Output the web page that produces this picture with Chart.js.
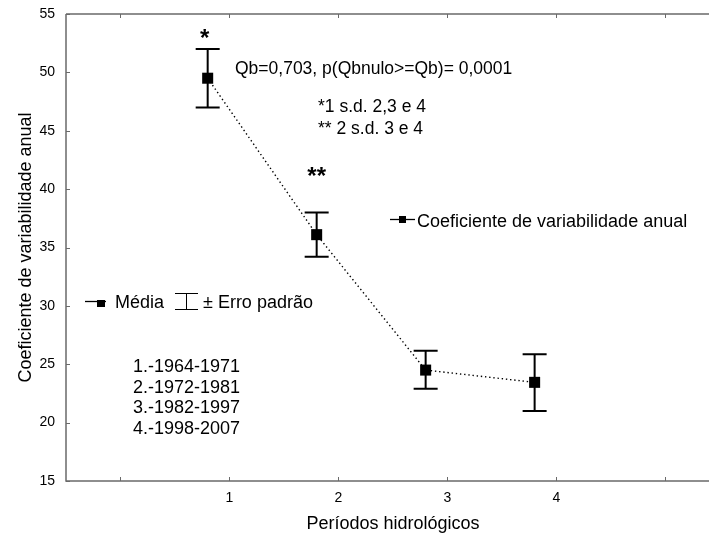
<!DOCTYPE html>
<html>
<head>
<meta charset="utf-8">
<script src="https://cdn.jsdelivr.net/npm/chart.js@4/dist/chart.umd.min.js"></script>
<style>
  html, body { margin: 0; padding: 0; background: #fff; }
  #wrap { width: 709px; height: 535px; }
</style>
</head>
<body>
<div id="wrap"><canvas id="myChart" width="709" height="535"></canvas></div>
<script>
// data
let periods = [0.8, 1.8, 2.8, 3.8];
let means = [49.5, 36.1, 24.5, 23.45];
let errUp = [52.0, 38.0, 26.15, 25.85];
let errDown = [47.0, 34.2, 22.9, 21.0];
let stars = ["*", "**"];
let starLevels = [52.3, 40.4];
let xTickValues = [0, 1, 2, 3, 4, 5];
let xTickLabels = ["", "1", "2", "3", "4", ""];
let yTickValues = [15, 20, 25, 30, 35, 40, 45, 50, 55];
let periodNames = ["1.-1964-1971", "2.-1972-1981", "3.-1982-1997", "4.-1998-2007"];
let statText = "Qb=0,703, p(Qbnulo>=Qb)= 0,0001";
let notes = ["*1 s.d. 2,3 e 4", "** 2 s.d. 3 e 4"];
let seriesName = "Coeficiente de variabilidade anual";
let xTitle = "Períodos hidrológicos";
let yTitle = "Coeficiente de variabilidade anual";

let fam = '"Liberation Sans", Arial, sans-serif';
let axisGray = "#6a6a6a";

let framePlugin = {
  id: "frame",
  beforeDatasetsDraw(chart) {
    let ctx = chart.ctx;
    let a = chart.chartArea;
    let xs = chart.scales.x, ys = chart.scales.y;
    ctx.save();
    // axes box (left, bottom, top)
    ctx.strokeStyle = axisGray;
    ctx.lineWidth = 1.5;
    ctx.beginPath();
    ctx.moveTo(a.left, a.top);
    ctx.lineTo(a.left, a.bottom);
    ctx.lineTo(a.right, a.bottom);
    ctx.moveTo(a.left, a.top);
    ctx.lineTo(a.right, a.top);
    ctx.stroke();
    // inward tick marks
    ctx.lineWidth = 1;
    ctx.beginPath();
    xs.ticks.forEach((t) => {
      let px = Math.round(xs.getPixelForValue(t.value)) + 0.5;
      ctx.moveTo(px, a.bottom);
      ctx.lineTo(px, a.bottom - 4);
      ctx.moveTo(px, a.top);
      ctx.lineTo(px, a.top + 4);
    });
    ys.ticks.forEach((t) => {
      let py = Math.round(ys.getPixelForValue(t.value)) + 0.5;
      ctx.moveTo(a.left, py);
      ctx.lineTo(a.left + 4, py);
    });
    ctx.stroke();

    // error bars
    ctx.strokeStyle = "#000";
    ctx.lineWidth = 2;
    for (let i = 0; i < periods.length; i++) {
      let px = xs.getPixelForValue(periods[i]);
      let top = ys.getPixelForValue(errUp[i]);
      let bot = ys.getPixelForValue(errDown[i]);
      ctx.beginPath();
      ctx.moveTo(px, top);
      ctx.lineTo(px, bot);
      ctx.moveTo(px - 12, top);
      ctx.lineTo(px + 12, top);
      ctx.moveTo(px - 12, bot);
      ctx.lineTo(px + 12, bot);
      ctx.stroke();
    }
    ctx.restore();
  },
  afterDraw(chart) {
    let ctx = chart.ctx;
    let a = chart.chartArea;
    let xs = chart.scales.x, ys = chart.scales.y;
    ctx.save();
    ctx.fillStyle = "#000";
    ctx.textBaseline = "alphabetic";

    // stars above the bars
    ctx.font = "bold 24px " + fam;
    ctx.textAlign = "center";
    for (let i = 0; i < stars.length; i++) {
      ctx.fillText(stars[i], xs.getPixelForValue(periods[i]) - 3 + i * 3, ys.getPixelForValue(starLevels[i]));
    }

    // statistics
    ctx.textAlign = "left";
    ctx.font = "17.5px " + fam;
    ctx.fillText(statText, 235, 74);
    ctx.fillText(notes[0], 318, 112);
    ctx.fillText(notes[1], 318, 134);

    // series legend (right)
    ctx.font = "18px " + fam;
    ctx.strokeStyle = "#000";
    ctx.lineWidth = 1.3;
    ctx.beginPath();
    ctx.moveTo(390, 219.5);
    ctx.lineTo(415, 219.5);
    ctx.stroke();
    ctx.fillRect(399, 216, 7, 7);
    ctx.fillText(seriesName, 417, 227);

    // mean / error legend (left)
    ctx.beginPath();
    ctx.moveTo(85, 301.5);
    ctx.lineTo(106, 301.5);
    ctx.stroke();
    ctx.fillRect(97, 300, 8, 7);
    ctx.fillText("Média", 115, 308);
    ctx.lineWidth = 1;
    ctx.beginPath();
    ctx.moveTo(175, 293.5);
    ctx.lineTo(198, 293.5);
    ctx.moveTo(186.5, 293.5);
    ctx.lineTo(186.5, 309.5);
    ctx.moveTo(175, 309.5);
    ctx.lineTo(198, 309.5);
    ctx.stroke();
    ctx.fillText("± Erro padrão", 203, 308);

    // period list
    for (let i = 0; i < periodNames.length; i++) {
      ctx.fillText(periodNames[i], 133, 372 + i * 20.5);
    }

    // axis titles
    ctx.textAlign = "center";
    ctx.fillText(xTitle, 393, 529);
    ctx.translate(31, (a.top + a.bottom) / 2);
    ctx.rotate(-Math.PI / 2);
    ctx.fillText(yTitle, 0, 0);
    ctx.restore();
  },
};

let init = () => {
  let points = periods.map((p, i) => ({ x: p, y: means[i] }));
  const config = {
    type: "scatter",
    data: {
      datasets: [
        {
          label: seriesName,
          data: points,
          showLine: true,
          borderColor: "#000",
          borderWidth: 1.4,
          borderDash: [1.4, 2.8],
          pointStyle: "rect",
          pointRadius: 7.8,
          pointBackgroundColor: "#000",
          pointBorderWidth: 0,
        },
      ],
    },
    options: {
      responsive: false,
      animation: false,
      layout: { autoPadding: false, padding: { top: 14, right: 0, left: 0, bottom: 0 } },
      plugins: { legend: { display: false }, tooltip: { enabled: false } },
      scales: {
        x: {
          type: "linear",
          min: -0.5,
          max: 5.4,
          grid: { display: false, drawTicks: false },
          border: { display: false },
          afterFit: (s) => {
            s.height = 54;
            s.paddingLeft = 0;
            s.paddingRight = 0;
          },
          afterBuildTicks: (s) => { s.ticks = xTickValues.map((v) => ({ value: v })); },
          ticks: {
            autoSkip: false,
            maxRotation: 0,
            padding: 9,
            color: "#000",
            font: { family: fam, size: 14 },
            callback: (v) => xTickLabels[xTickValues.indexOf(v)],
          },
        },
        y: {
          min: 15,
          max: 55,
          grid: { display: false, drawTicks: false },
          border: { display: false },
          afterFit: (s) => {
            s.width = 66;
            s.paddingTop = 0;
            s.paddingBottom = 0;
          },
          afterBuildTicks: (s) => { s.ticks = yTickValues.map((v) => ({ value: v })); },
          ticks: {
            autoSkip: false,
            padding: 11,
            color: "#000",
            font: { family: fam, size: 14 },
          },
        },
      },
    },
    plugins: [framePlugin],
  };
  new Chart(document.getElementById("myChart"), config);
};
init();
</script>
</body>
</html>
